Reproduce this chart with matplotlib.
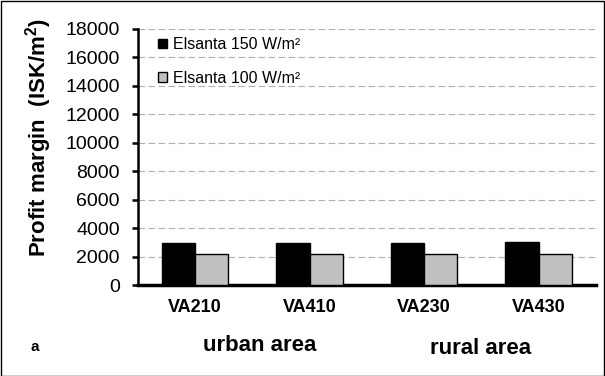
import matplotlib
matplotlib.use("Agg")
import matplotlib.pyplot as plt
import numpy as np

plt.rcParams["font.family"] = ["Liberation Sans", "DejaVu Sans"]

categories = ["VA210", "VA410", "VA230", "VA430"]
elsanta_150 = [2950, 2950, 2950, 3000]
elsanta_100 = [2150, 2150, 2150, 2150]
yticks = list(range(0, 18001, 2000))

fig = plt.figure(figsize=(6.05, 3.76), dpi=100)
ax = fig.add_axes([0.228, 0.242, 0.757, 0.681])

x = np.arange(len(categories))
w = 0.29
ax.bar(x - w / 2, elsanta_150, w, color="black", edgecolor="black", linewidth=1,
       label="Elsanta 150 W/m²", zorder=3)
ax.bar(x + w / 2, elsanta_100, w, color="#c0c0c0", edgecolor="black", linewidth=1,
       label="Elsanta 100 W/m²", zorder=3)

ax.set_xlim(-0.5, len(categories) - 0.5)
ax.set_ylim(0, 18000)
ax.set_yticks(yticks)
ax.set_xticks(x)
ax.set_xticklabels(categories, fontsize=13, fontweight="bold")
ax.tick_params(axis="x", length=0, pad=10)
ax.tick_params(axis="y", labelsize=14, length=4, width=1.8, direction="out", pad=9)
ax.yaxis.grid(True, color="#b0b0b0", linestyle=(0, (6, 3)), linewidth=0.8, zorder=0)

for side in ["top", "right"]:
    ax.spines[side].set_visible(False)
ax.spines["left"].set_linewidth(1.8)
ax.spines["bottom"].set_linewidth(2.5)

fig.text(0.063, 0.633, "Profit margin  (ISK/m$^\\mathregular{2}$)", fontsize=16,
         fontweight="bold", rotation=90, ha="center", va="center")

# leyenda con marcadores cuadrados pequeños
leg = ax.legend(loc="upper left", bbox_to_anchor=(0.026, 1.0), frameon=False,
                fontsize=11.5, handlelength=0.55, handleheight=0.55, handletextpad=0.35,
                labelspacing=1.15, borderaxespad=0.12)

fig.text(0.05, 0.077, "a", fontsize=11, fontweight="bold", ha="left", va="center")
fig.text(0.43, 0.082, "urban area", fontsize=16, fontweight="bold", ha="center", va="center")
fig.text(0.795, 0.072, "rural area", fontsize=16, fontweight="bold", ha="center", va="center")

fig.patches.append(plt.Rectangle((0.001, 0.001), 0.997, 0.997, transform=fig.transFigure,
                                 fill=False, edgecolor="black", linewidth=1))

fig.savefig("out.png", dpi=100)
